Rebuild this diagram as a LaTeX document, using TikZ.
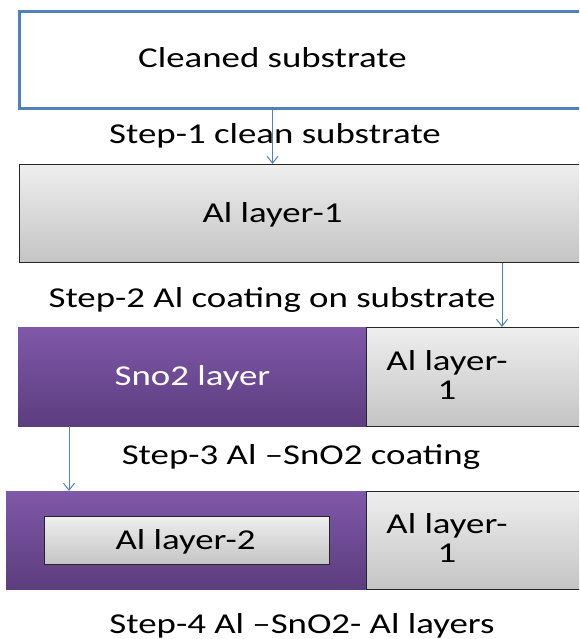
\documentclass[tikz,border=0pt]{standalone}
\usepackage{fontspec}
\setmainfont{Carlito}
\usetikzlibrary{arrows.meta}
\newcommand{\sx}[1]{\scalebox{1.28}[1]{#1}}
\definecolor{bluebd}{HTML}{4F81BD}
\definecolor{greytop}{HTML}{EEEEEE}
\definecolor{greybot}{HTML}{C4C4C4}
\definecolor{purtop}{HTML}{7F58A9}
\definecolor{purbot}{HTML}{5C3D7E}
\tikzset{
  txt/.style={inner sep=0pt, anchor=base, font=\fontsize{28.8}{29}\selectfont, align=center},
  wtxt/.style={txt, text=white},
  bluebox/.style={draw=bluebd, line width=3pt, fill=white, anchor=north west},
  greybox/.style={draw=black!85, line width=1.3pt, top color=greytop, bottom color=greybot, anchor=north west},
  purbox/.style={draw=none, top color=purtop, bottom color=purbot, anchor=north west},
  arr/.style={draw=bluebd, line width=1pt, -{Straight Barb[length=7pt,width=11pt]}}
}
\begin{document}
\begin{tikzpicture}[x=1pt, y=-1pt]
\useasboundingbox (0,0) rectangle (579,639);
\clip (0,0) rectangle (579,639);
% row 1
\node[bluebox, minimum width=600pt, minimum height=97pt] (sub) at (18,10) {};
\node[txt] (cs) at (272.5,68) {\sx{Cleaned substrate}};
\node[txt] (s1) at (275,144) {\sx{Step-1 clean substrate}};
% row 2
\node[greybox, minimum width=600pt, minimum height=98pt] (al1) at (19,164) {};
\node[txt] (t2) at (272.5,222) {\sx{Al layer-1}};
\node[txt] (s2) at (272,307) {\sx{Step-2 Al coating on substrate}};
% row 3
\node[purbox, minimum width=348pt, minimum height=99pt] (p3) at (18,327) {};
\node[greybox, minimum width=250pt, minimum height=99pt] (g3) at (366,327) {};
\node[wtxt] (t3) at (192.5,385) {\sx{Sno2 layer}};
\node[txt] (t3b) at (447,399) {\sx{Al layer-}\\\sx{1}};
\node[txt] (s3) at (301,464) {\sx{Step-3 Al –SnO2 coating}};
% row 4
\node[purbox, minimum width=360pt, minimum height=98pt] (p4) at (6,491) {};
\node[greybox, minimum width=250pt, minimum height=98pt] (g4) at (366,491) {};
\node[greybox, line width=1.1pt, minimum width=285pt, minimum height=48pt] (al2) at (44,516) {};
\node[txt] (t4) at (185.5,549) {\sx{Al layer-2}};
\node[txt] (t4b) at (447,562) {\sx{Al layer-}\\\sx{1}};
\node[txt] (s4) at (302,633) {\sx{Step-4 Al –SnO2- Al layers}};
% connectors
\coordinate (c2) at (502,0);
\coordinate (c3) at (69,0);
\draw[arr] (cs |- sub.south) -- (cs |- al1.north);
\draw[arr] (c2 |- al1.south) -- (c2 |- g3.north);
\draw[arr] (c3 |- p3.south) -- (c3 |- p4.north);
\end{tikzpicture}
\end{document}
